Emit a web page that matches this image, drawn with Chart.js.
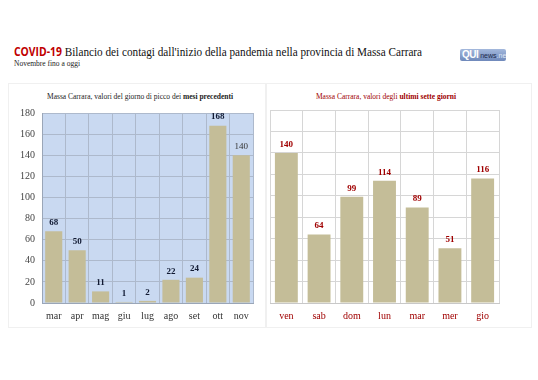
<!DOCTYPE html>
<html>
<head>
<meta charset="utf-8">
<script src="https://cdn.jsdelivr.net/npm/chart.js@4"></script>
<style>
body { margin: 0; background: #fff; width: 538px; height: 380px; position: relative; overflow: hidden; font-family: "Liberation Serif", serif; }
#title { position: absolute; left: 14px; top: 43px; font-size: 13.5px; color: #111; white-space: nowrap; transform: scaleX(0.83); transform-origin: left top; }
#title b { font-family: "Open Sans", sans-serif; color: #c00000; font-size: 12.5px; }
#sub { position: absolute; left: 14px; top: 59px; font-size: 7.5px; color: #222; }
#logo { position: absolute; left: 460px; top: 49px; width: 46px; height: 12px; overflow: hidden; white-space: nowrap; background: linear-gradient(#a3b8dc, #6f89bb); border-radius: 2px; font-family: "Liberation Sans", sans-serif; font-size: 7px; color: #1d2a4a; line-height: 12px; }
#logo span { font-weight: bold; font-size: 10px; color: #fff; padding-left: 2px; letter-spacing: -0.5px; }
#logo i { font-style: normal; color: #dfe6f3; }
.panel { position: absolute; top: 83px; height: 243px; border: 1px solid #f0f0f0; }
.ct { position: absolute; top: 92px; font-size: 7.5px; white-space: nowrap; transform: translateX(-50%); }
canvas { position: absolute; }
</style>
</head>
<body>
<div id="title"><b>COVID-19</b> Bilancio dei contagi dall'inizio della pandemia nella provincia di Massa Carrara</div>
<div id="sub">Novembre fino a oggi</div>
<div id="logo"><span>QUI</span> news<i>.net</i></div>
<div class="panel" style="left:8px;width:256px"></div>
<div class="panel" style="left:266px;width:264px"></div>
<div class="ct" style="left:140px;color:#222">Massa Carrara, valori del giorno di picco dei <b>mesi precedenti</b></div>
<div class="ct" style="left:386px;color:#a00000">Massa Carrara, valori degli <b>ultimi sette giorni</b></div>
<div style="position:absolute;left:0;top:100px;width:265px;height:230px"><canvas id="left"></canvas></div>
<div style="position:absolute;left:268px;top:100px;width:262px;height:230px"><canvas id="right"></canvas></div>
<script>
const mesi = ["mar", "apr", "mag", "giu", "lug", "ago", "set", "ott", "nov"];
const picco = [68, 50, 11, 1, 2, 22, 24, 168, 140];
const giorni = ["ven", "sab", "dom", "lun", "mar", "mer", "gio"];
const ultimi = [140, 64, 99, 114, 89, 51, 116];

const barColor = "#c4bd98";

// sfondo dell'area del grafico
const bgPlugin = {
    id: "bg",
    beforeDraw(chart, args, opts) {
        const a = chart.chartArea;
        chart.ctx.save();
        chart.ctx.fillStyle = opts.color;
        chart.ctx.fillRect(a.left, a.top, a.right - a.left, a.bottom - a.top);
        chart.ctx.restore();
    }
};

// valori sopra le barre
const labelPlugin = {
    id: "vals",
    afterDatasetsDraw(chart, args, opts) {
        const ctx = chart.ctx;
        const meta = chart.getDatasetMeta(0);
        ctx.save();
        ctx.textAlign = "center";
        ctx.textBaseline = "bottom";
        meta.data.forEach((bar, i) => {
            const light = opts.light && opts.light.includes(i);
            ctx.font = (light ? "" : "bold ") + "9px 'Liberation Serif', serif";
            ctx.fillStyle = light ? "#333" : opts.color;
            ctx.fillText(chart.data.datasets[0].data[i], bar.x, bar.y - 4);
        });
        ctx.restore();
    }
};

new Chart(document.getElementById("left"), {
    type: "bar",
    data: {
        labels: mesi,
        datasets: [{
            data: picco,
            backgroundColor: barColor,
            barPercentage: 0.73,
            categoryPercentage: 1.0,
        }]
    },
    options: {
        responsive: true,
        maintainAspectRatio: false,
        animation: false,
        layout: { padding: { top: 10, right: 12, left: 0, bottom: 0 } },
        plugins: {
            legend: { display: false },
            tooltip: { enabled: false },
            bg: { color: "#c9d9f1" },
            vals: { color: "#111a33", light: [8] }
        },
        scales: {
            x: {
                afterFit: s => { s.height = 27; },
                grid: { color: "#adb9cc", offset: true, drawTicks: false },
                border: { color: "#9aa6b8" },
                ticks: { color: "#333", padding: 7, font: { family: "'Liberation Serif', serif", size: 10 } }
            },
            y: {
                min: 0,
                max: 180,
                afterFit: s => { s.width = 42; },
                grid: { color: "#adb9cc", drawTicks: false },
                border: { color: "#9aa6b8" },
                ticks: { stepSize: 20, color: "#444", padding: 7, font: { family: "'Liberation Serif', serif", size: 10 } }
            }
        }
    },
    plugins: [bgPlugin, labelPlugin]
});

new Chart(document.getElementById("right"), {
    type: "bar",
    data: {
        labels: giorni,
        datasets: [{
            data: ultimi,
            backgroundColor: barColor,
            barPercentage: 0.7,
            categoryPercentage: 1.0,
        }]
    },
    options: {
        responsive: true,
        maintainAspectRatio: false,
        animation: false,
        layout: { padding: { top: 10, right: 31, left: 2, bottom: 0 } },
        plugins: {
            legend: { display: false },
            tooltip: { enabled: false },
            bg: { color: "#ffffff" },
            vals: { color: "#a00000" }
        },
        scales: {
            x: {
                afterFit: s => { s.height = 27; },
                grid: { color: "#d6d6d6", offset: true, drawTicks: false },
                border: { color: "#c8c8c8" },
                ticks: { color: "#a00000", padding: 7, font: { family: "'Liberation Serif', serif", size: 10 } }
            },
            y: {
                min: 0,
                max: 180,
                grid: { color: "#d6d6d6", drawTicks: false },
                border: { display: false },
                ticks: { stepSize: 20, display: false }
            }
        }
    },
    plugins: [bgPlugin, labelPlugin]
});
</script>
</body>
</html>
